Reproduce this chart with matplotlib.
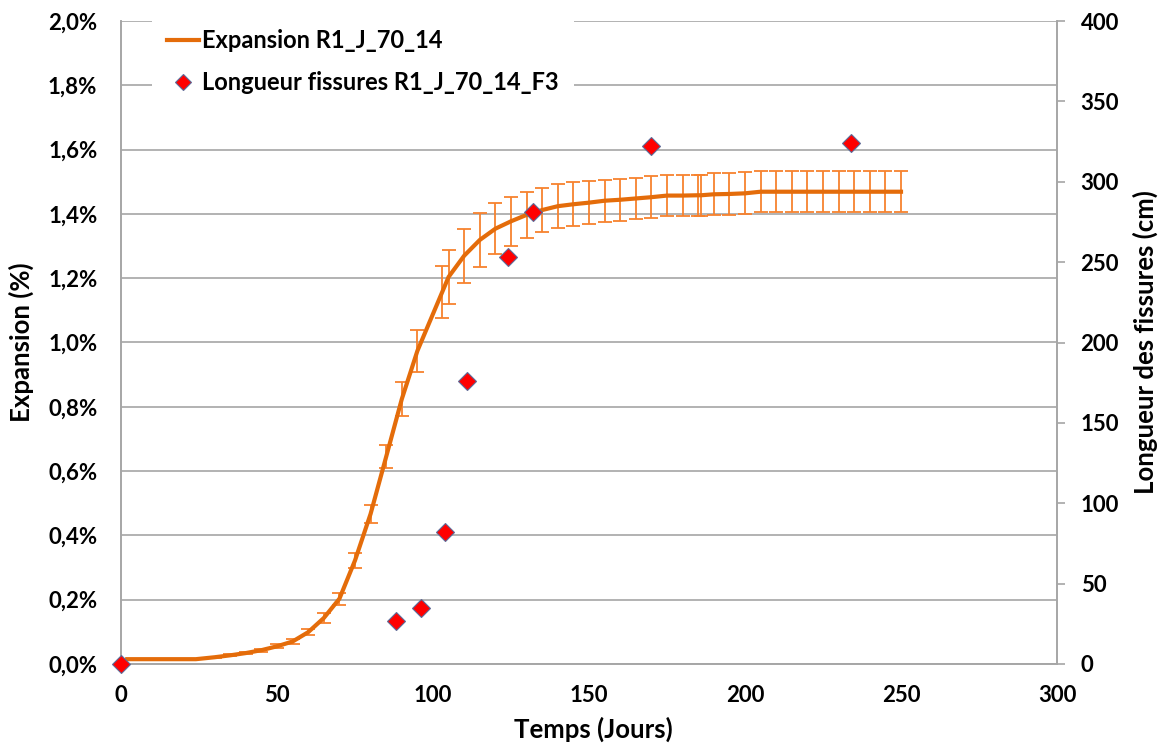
import matplotlib
matplotlib.use("Agg")
import matplotlib.pyplot as plt
from matplotlib.lines import Line2D
from matplotlib.ticker import FuncFormatter, MultipleLocator

# Expansion data (days, % expansion, error half-width in %)
days = [2, 24, 30, 35, 40, 45, 50, 55, 60, 65, 70, 75, 80, 85, 90, 95, 103, 105,
        110, 115, 120, 125, 130, 135, 140, 145, 150, 155, 160, 165, 170, 175, 180,
        185, 186, 190, 195, 200, 205, 210, 215, 220, 225, 230, 235, 240, 245, 250]
expansion = [0.015, 0.015, 0.021, 0.027, 0.034, 0.043, 0.055, 0.070, 0.099, 0.143,
             0.203, 0.322, 0.467, 0.645, 0.824, 0.974, 1.158, 1.204,
             1.270, 1.319, 1.354, 1.377, 1.397, 1.412, 1.424, 1.430, 1.435, 1.441,
             1.444, 1.448, 1.452, 1.457, 1.457, 1.458, 1.458, 1.461, 1.462, 1.464,
             1.469, 1.469, 1.469, 1.469, 1.469, 1.469, 1.469, 1.469, 1.469, 1.469]
expansion_err = [0.0, 0.001, 0.002, 0.003, 0.004, 0.005, 0.006, 0.008, 0.010, 0.015,
                 0.019, 0.024, 0.028, 0.036, 0.054, 0.066, 0.081, 0.085,
                 0.084, 0.083, 0.079, 0.076, 0.072, 0.069, 0.069, 0.068, 0.067, 0.065,
                 0.065, 0.065, 0.066, 0.064, 0.064, 0.064, 0.064, 0.065, 0.065, 0.065,
                 0.063, 0.063, 0.063, 0.063, 0.063, 0.063, 0.063, 0.063, 0.063, 0.063]

# Crack length data (days, cm)
crack_days = [0, 88, 96, 104, 111, 124, 132, 170, 234]
crack_length = [0, 27, 35, 82, 176, 253, 281, 322, 324]

line_color = "#E46C0A"
err_color = "#F7822E"
grid_color = "#A6A6A6"
font = "Lato"

fig = plt.figure(figsize=(11.62, 7.51), dpi=100)
ax1 = fig.add_axes([121 / 1162, 1 - 664 / 751, (1057 - 121) / 1162, (664 - 21) / 751])
ax2 = ax1.twinx()

ax1.errorbar(days, expansion, yerr=expansion_err, fmt="none", ecolor=err_color,
             elinewidth=1.3, capsize=5, capthick=1.3, zorder=2)
ax1.plot(days, expansion, color=line_color, lw=3, zorder=3)

ax2.plot(crack_days, crack_length, linestyle="none", marker="D", markersize=9,
         markerfacecolor="#FF0000", markeredgecolor="#5B6C99", markeredgewidth=0.8,
         zorder=4, clip_on=False)

ax1.set_xlim(0, 300)
ax1.set_ylim(0, 2.0)
ax2.set_ylim(0, 400)
ax1.xaxis.set_major_locator(MultipleLocator(50))
ax1.yaxis.set_major_locator(MultipleLocator(0.2))
ax2.yaxis.set_major_locator(MultipleLocator(50))
ax1.yaxis.set_major_formatter(FuncFormatter(lambda v, p: f"{v:.1f}%".replace(".", ",")))

ax1.grid(axis="y", color=grid_color, lw=1.2)
ax1.set_axisbelow(True)
for ax in (ax1, ax2):
    ax.spines["top"].set_visible(False)
    for s in ("left", "right", "bottom"):
        ax.spines[s].set_color(grid_color)
        ax.spines[s].set_linewidth(1.2)

ax1.tick_params(axis="y", length=0, pad=17)
ax1.tick_params(axis="x", length=0, pad=15)
ax2.tick_params(axis="y", length=6, width=1.2, color=grid_color, pad=11)
for lab in ax1.get_xticklabels() + ax1.get_yticklabels() + ax2.get_yticklabels():
    lab.set_fontfamily(font)
    lab.set_fontweight("bold")
    lab.set_fontsize(16)

label_kw = dict(fontfamily=font, fontweight="bold", fontsize=18.5)
ax1.set_xlabel("Temps (Jours)", **label_kw)
ax1.set_ylabel("Expansion (%)", **label_kw)
ax2.set_ylabel("Longueur des fissures (cm)", **label_kw)
ax1.xaxis.set_label_coords((593 - 121) / 936, (664 - 717) / 643)
ax1.yaxis.set_label_coords((34 - 121) / 936, 0.5)
ax2.yaxis.set_label_coords((1133 - 121) / 936, 0.5)

handles = [
    Line2D([], [], color=line_color, lw=3),
    Line2D([], [], linestyle="none", marker="D", markersize=8, markerfacecolor="#FF0000",
           markeredgecolor="#5B6C99", markeredgewidth=0.8),
]
labels = ["Expansion R1_J_70_14", "Longueur fissures R1_J_70_14_F3"]
leg = ax2.legend(handles, labels, loc="upper left", bbox_to_anchor=(152 / 1162, 1 - 14 / 751),
                 bbox_transform=fig.transFigure, borderaxespad=0, frameon=True,
                 facecolor="white", edgecolor="none", framealpha=1, fancybox=False,
                 prop={"family": font, "weight": "bold", "size": 17},
                 handlelength=1.35, handletextpad=0.12, labelspacing=0.8, borderpad=0.65)

fig.savefig("out.png", dpi=100)
